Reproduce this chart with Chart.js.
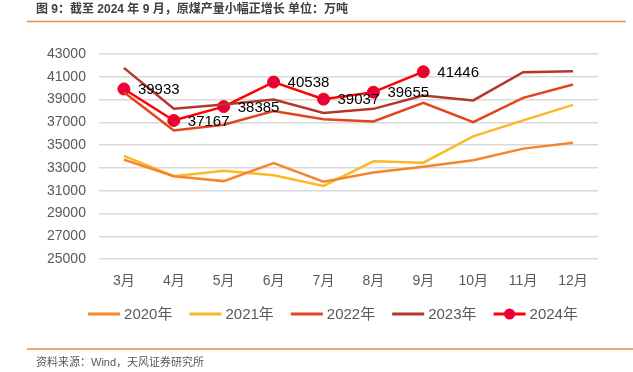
<!DOCTYPE html>
<html>
<head>
<meta charset="utf-8">
<script src="https://cdn.jsdelivr.net/npm/chart.js@4.4.1/dist/chart.umd.min.js"></script>
<style>
  html, body { margin: 0; padding: 0; background: #fff; }
  #wrap { position: relative; width: 633px; height: 372px; }
</style>
</head>
<body>
<div id="wrap"><canvas id="myChart" width="633" height="372"></canvas></div>
<script>
const months = ['3月', '4月', '5月', '6月', '7月', '8月', '9月', '10月', '11月', '12月'];
const y2020 = [33730, 32280, 31850, 33440, 31790, 32600, 33100, 33680, 34700, 35220];
const y2021 = [34060, 32280, 32750, 32370, 31430, 33590, 33470, 35780, 37180, 38540];
const y2022 = [39650, 36300, 36800, 37990, 37270, 37090, 38720, 37030, 39150, 40320];
const y2023 = [41780, 38190, 38580, 39010, 37820, 38190, 39360, 38930, 41400, 41490];
const y2024 = [39933, 37167, 38385, 40538, 39037, 39655, 41446];
const yTicks = [25000, 27000, 29000, 31000, 33000, 35000, 37000, 39000, 41000, 43000];

const fontFam = '"Liberation Sans", Arial, "Noto Sans CJK SC", sans-serif';

const pagePlugin = {
    id: 'page',
    afterDraw(chart) {
        const ctx = chart.ctx;
        ctx.save();
        ctx.fillStyle = '#404040';
        ctx.font = 'bold 12px ' + fontFam;
        ctx.textBaseline = 'middle';
        ctx.fillText('图 9：截至 2024 年 9 月，原煤产量小幅正增长 单位：万吨', 36, 10);
        ctx.strokeStyle = '#F08A3C';
        ctx.lineWidth = 1.5;
        ctx.beginPath(); ctx.moveTo(27, 21.5); ctx.lineTo(626, 21.5); ctx.stroke();
        ctx.beginPath(); ctx.moveTo(27, 349); ctx.lineTo(633, 349); ctx.stroke();
        ctx.fillStyle = '#595959';
        ctx.font = '11px ' + fontFam;
        ctx.fillText('资料来源：Wind，天风证券研究所', 36, 363);
        ctx.restore();
    }
};

// legend drawn by hand: line + label, dot on the 2024 one
const legendPlugin = {
    id: 'bottomLegend',
    afterDraw(chart) {
        const ctx = chart.ctx;
        const sets = chart.data.datasets;
        ctx.save();
        ctx.font = '15px ' + fontFam;
        ctx.textBaseline = 'middle';
        const widths = sets.map(ds => 32 + 4 + ctx.measureText(ds.label).width);
        const gap = 17;
        const total = widths.reduce((a, b) => a + b, 0) + gap * (sets.length - 1);
        let x = 333 - total / 2;
        const y = 314;
        sets.forEach((ds, i) => {
            ctx.strokeStyle = ds.borderColor;
            ctx.lineWidth = 3;
            ctx.beginPath(); ctx.moveTo(x, y); ctx.lineTo(x + 32, y); ctx.stroke();
            if (ds.pointRadius > 0) {
                ctx.fillStyle = ds.pointBackgroundColor;
                ctx.beginPath(); ctx.arc(x + 16, y, 5.5, 0, Math.PI * 2); ctx.fill();
            }
            ctx.fillStyle = '#595959';
            ctx.fillText(ds.label, x + 36, y + 1);
            x += widths[i] + gap;
        });
        ctx.restore();
    }
};

const labelPlugin = {
    id: 'valueLabels',
    afterDatasetsDraw(chart) {
        const ctx = chart.ctx;
        const meta = chart.getDatasetMeta(4);
        ctx.save();
        ctx.fillStyle = '#000';
        ctx.font = '15px ' + fontFam;
        ctx.textBaseline = 'middle';
        meta.data.forEach((pt, i) => {
            ctx.fillText(String(y2024[i]), pt.x + 14, pt.y + 1);
        });
        ctx.restore();
    }
};

const ctx = document.getElementById('myChart').getContext('2d');
const myChart = new Chart(ctx, {
    type: 'line',
    data: {
        labels: months,
        datasets: [
            { label: '2020年', data: y2020, borderColor: '#F5862A', backgroundColor: '#F5862A', pointRadius: 0, borderWidth: 2.5 },
            { label: '2021年', data: y2021, borderColor: '#FBB827', backgroundColor: '#FBB827', pointRadius: 0, borderWidth: 2.5 },
            { label: '2022年', data: y2022, borderColor: '#E2441E', backgroundColor: '#E2441E', pointRadius: 0, borderWidth: 2.5 },
            { label: '2023年', data: y2023, borderColor: '#B2382B', backgroundColor: '#B2382B', pointRadius: 0, borderWidth: 2.5 },
            { label: '2024年', data: y2024, borderColor: '#FF0000', backgroundColor: '#E8003A', pointBackgroundColor: '#E8003A',
              pointBorderColor: '#FF0000', pointBorderWidth: 1, pointRadius: 6, borderWidth: 2.5 }
        ]
    },
    options: {
        responsive: false,
        animation: false,
        layout: { padding: { top: 54, right: 35, left: 34, bottom: 68 } },
        plugins: {
            tooltip: { enabled: false },
            legend: { display: false }
        },
        scales: {
            x: {
                offset: true,
                grid: { display: false, drawTicks: false },
                border: { display: false },
                ticks: { color: '#595959', padding: 14, font: { family: fontFam, size: 14 } }
            },
            y: {
                min: 25000,
                max: 43000,
                afterBuildTicks(axis) { axis.ticks = yTicks.map(v => ({ value: v })); },
                grid: { color: '#D9D9D9', lineWidth: 1.5, drawTicks: false },
                border: { display: false },
                ticks: {
                    color: '#595959', padding: 13, font: { family: fontFam, size: 14 },
                    callback: v => String(v)
                }
            }
        }
    },
    plugins: [pagePlugin, legendPlugin, labelPlugin]
});
</script>
</body>
</html>
